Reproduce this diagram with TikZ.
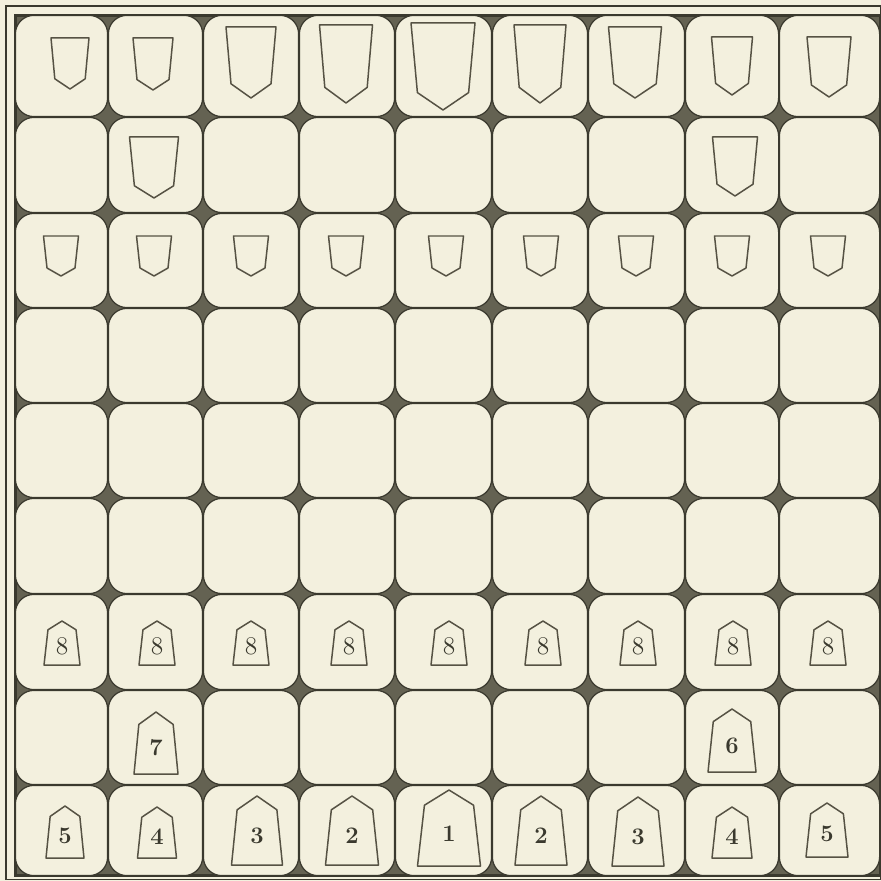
\documentclass[tikz,border=0pt]{standalone}
\usetikzlibrary{calc}
\definecolor{paper}{RGB}{243,240,222}
\definecolor{gridline}{RGB}{58,57,46}
\definecolor{blob}{RGB}{100,98,82}
\definecolor{ink}{RGB}{86,82,68}
\tikzset{
  frameline/.style={draw=gridline, line width=0.8pt},
  board/.style={fill=blob, draw=gridline, line width=1.4pt},
  cell/.style={fill=paper, draw=gridline, line width=0.7pt, rounded corners=10.5pt},
  gote/.style={draw=ink, line width=0.85pt, line join=round},
  sente/.style={draw=ink, line width=0.85pt, line join=round},
  pawnnum/.style={inner sep=0pt, text=gridline, font=\fontsize{14.5}{16}\selectfont},
  num/.style={inner sep=0pt, text=gridline, font=\fontsize{13.5}{15}\selectfont\bfseries}
}
% gote piece: cx, top, width, height
\newcommand{\gotepiece}[4]{%
  \draw[gote] ({#1-#3/2},#2) -- ({#1+#3/2},#2) -- ({#1+0.4*#3},{#2+0.8*#4})
    -- (#1,{#2+#4}) -- ({#1-0.4*#3},{#2+0.8*#4}) -- cycle;}
% sente piece: name, cx, top, width, height, label style, label
\newcommand{\sentepiece}[7]{%
  \draw[sente] (#2,#3) -- ({#2+0.39*#4},{#3+0.2*#5}) -- ({#2+#4/2},{#3+#5})
    -- ({#2-#4/2},{#3+#5}) -- ({#2-0.39*#4},{#3+0.2*#5}) -- cycle;
  \node[#6] (#1) at (#2,{#3+0.58*#5}) {#7};}
\begin{document}
\begin{tikzpicture}[x=0.02cm, y=-0.02cm]
  \fill[paper] (0,0) rectangle (881,881);
  \useasboundingbox (0,0) rectangle (881,881);

  \draw[frameline] (6,6) rectangle (880.5,879.5);
  \filldraw[board] (15.5,15.5) rectangle (880,875.5);

  \foreach \xa/\xb in {15/108,108/203,203/299,299/395,395/492,492/588,588/685,685/779,779/880}
    \foreach \ya/\yb in {15/117,117/213,213/308,308/403,403/498,498/594,594/690,690/785,785/876}
      \filldraw[cell] ({\xa+0.4},{\ya+0.4}) rectangle ({\xb-0.4},{\yb-0.4});

  \gotepiece{70}{38}{38}{51}
  \gotepiece{153}{38}{40}{52}
  \gotepiece{251}{27}{50}{71}
  \gotepiece{346}{25}{53}{78}
  \gotepiece{443}{23}{64}{87}
  \gotepiece{540}{25}{52}{78}
  \gotepiece{635}{27}{53}{71}
  \gotepiece{732}{37}{41}{58}
  \gotepiece{829}{37}{44}{60}

  \gotepiece{154}{137}{49}{61}
  \gotepiece{735}{137}{45}{59}

  \foreach \cx in {61,154,251,346,446,541,636,732,828}{
    \gotepiece{\cx}{236}{35}{40}
  }

  \foreach \cx [count=\i] in {62,157,251,349,449,543,638,733,828}{
    \sentepiece{pawn\i}{\cx}{621}{36}{44}{pawnnum}{8}
  }

  \sentepiece{rook}{156}{712}{44}{62}{num}{7}
  \sentepiece{bishop}{732}{709}{48}{63}{num}{6}

  \sentepiece{lanceL}{65}{806}{38}{52}{num}{5}
  \sentepiece{knightL}{157}{807}{39}{51}{num}{4}
  \sentepiece{silverL}{257}{796}{51}{69}{num}{3}
  \sentepiece{goldL}{352}{796}{53}{69}{num}{2}
  \sentepiece{king}{449}{790}{63}{76}{num}{1}
  \sentepiece{goldR}{541}{796}{52}{69}{num}{2}
  \sentepiece{silverR}{638}{797}{52}{69}{num}{3}
  \sentepiece{knightR}{732}{807}{40}{51}{num}{4}
  \sentepiece{lanceR}{827}{803}{42}{54}{num}{5}
\end{tikzpicture}
\end{document}
